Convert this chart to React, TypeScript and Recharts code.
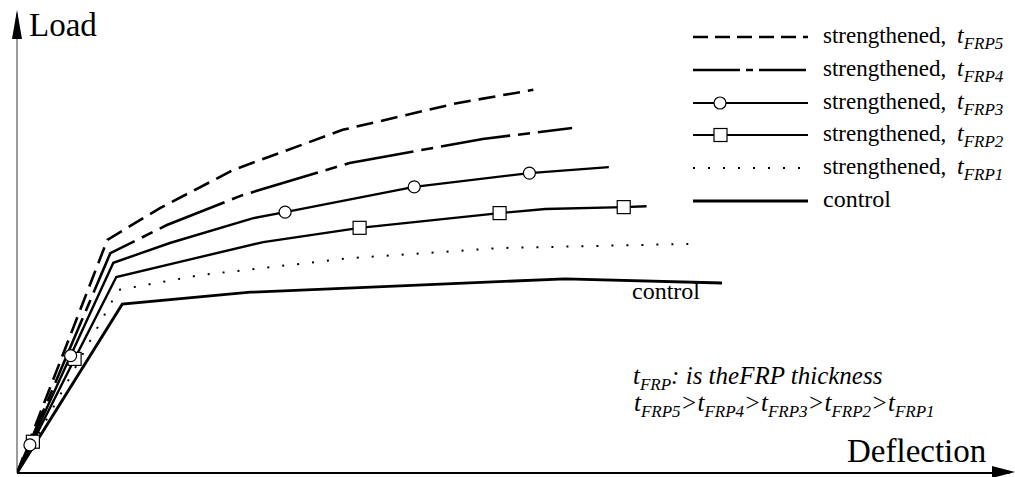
import React from 'react'
import { LineChart, Line, XAxis, YAxis, Legend, ReferenceLine } from 'recharts'

// load-deflection curves (arbitrary units 0..100)
const controlDef = [0, 10.6, 23.5, 38.6, 55.2, 71.0]
const controlLoad = [0, 36.7, 39.3, 40.7, 42.2, 41.3]

const frp1Def = [0, 10.2, 18.4, 33.5, 48.6, 67.6]
const frp1Load = [0, 39.8, 43.0, 46.7, 48.9, 49.8]

const frp2Def = [0, 1.6, 5.8, 10.0, 16.4, 24.8, 34.5, 48.6, 53.2, 61.1, 63.4]
const frp2Load = [0, 6.8, 24.8, 42.6, 45.9, 50.2, 53.3, 56.5, 57.4, 57.8, 58.0]
const frp2Markers = [1.6, 5.8, 34.5, 48.6, 61.1]

const frp3Def = [0, 1.3, 5.4, 9.7, 15.4, 23.8, 27.0, 40.0, 51.6, 59.6]
const frp3Load = [0, 6.1, 25.5, 45.7, 50.0, 55.4, 56.7, 62.2, 65.2, 66.5]
const frp3Markers = [1.3, 5.4, 27.0, 40.0, 51.6]

const frp4Def = [0, 9.4, 15.1, 22.7, 33.5, 46.9, 55.9]
const frp4Load = [0, 47.8, 53.9, 60.4, 67.4, 72.6, 75.0]

const frp5Def = [0, 9.1, 14.4, 21.8, 32.8, 44.3, 52.0]
const frp5Load = [0, 50.7, 57.6, 65.9, 74.6, 80.4, 83.3]

const legendSubs = ['FRP5', 'FRP4', 'FRP3', 'FRP2', 'FRP1']
const orderSubs = ['FRP5', 'FRP4', 'FRP3', 'FRP2', 'FRP1']

const toPoints = (def: number[], load: number[]) => def.map((d, i) => ({ d, load: load[i] }))

const serif = 'Liberation Serif, Times New Roman, DejaVu Serif, serif'

const markerDot = (markers: number[], kind: 'circle' | 'square') => (p: any) => {
  const key = `m-${kind}-${p.index}`
  if (!markers.includes(p.payload.d)) return <g key={key} />
  if (kind === 'circle') {
    return <circle key={key} cx={p.cx} cy={p.cy} r={6} fill="#fff" stroke="#000" strokeWidth={1.2} />
  }
  return <rect key={key} x={p.cx - 6.5} y={p.cy - 6.5} width={13} height={13} fill="#fff" stroke="#000" strokeWidth={1.2} />
}

const LegendBox = () => {
  const rows = [17, 50, 83, 115, 148, 181]
  const styles = [
    { dash: '15 7', w: 2.6 },
    { dash: '47 6 7 6', w: 2.6 },
    { dash: undefined, w: 2.2 },
    { dash: undefined, w: 2.2 },
    { dash: '2 13', w: 2 },
    { dash: undefined, w: 2.8 },
  ]
  return (
    <svg width={335} height={200} style={{ overflow: 'visible' }}>
      {rows.map((y, i) => (
        <g key={i}>
          <line x1={13} x2={128} y1={y} y2={y} stroke="#000" strokeWidth={styles[i].w} strokeDasharray={styles[i].dash} />
          {i === 2 && <circle cx={40} cy={y} r={6} fill="#fff" stroke="#000" strokeWidth={1.2} />}
          {i === 3 && <rect x={34} y={y - 6.5} width={13} height={13} fill="#fff" stroke="#000" strokeWidth={1.2} />}
          {i < 5 ? (
            <>
              <text x={143} y={y + 6} fontFamily={serif} fontSize={23} fill="#000">strengthened,</text>
              <text x={277} y={y + 6} fontFamily={serif} fontSize={24} fontStyle="italic" fill="#000">
                t<tspan dy={6} fontSize={17}>{legendSubs[i]}</tspan>
              </text>
            </>
          ) : (
            <text x={143} y={y + 6} fontFamily={serif} fontSize={24} fill="#000">control</text>
          )}
        </g>
      ))}
    </svg>
  )
}

export default function App() {
  return (
    <div style={{ position: 'absolute', left: 0, top: 0, width: 1015, height: 477, background: '#fff' }}>
      <LineChart width={1015} height={477} margin={{ top: 13, right: 5, bottom: 4, left: 17 }}>
        <XAxis type="number" dataKey="d" domain={[0, 100]} allowDataOverflow hide />
        <YAxis type="number" dataKey="load" domain={[0, 100]} allowDataOverflow hide />
        <ReferenceLine y={0} stroke="#000" strokeWidth={2} ifOverflow="visible" />
        <ReferenceLine x={0} stroke="#666" strokeWidth={1.3} ifOverflow="visible" />
        <Legend
          layout="vertical"
          align="center"
          verticalAlign="middle"
          wrapperStyle={{ left: 680, top: 20, width: 335 }}
          content={() => <LegendBox />}
        />
        <Line data={toPoints(controlDef, controlLoad)} dataKey="load" type="linear" stroke="#000" strokeWidth={2.8} dot={false} isAnimationActive={false} />
        <Line data={toPoints(frp1Def, frp1Load)} dataKey="load" type="linear" stroke="#000" strokeWidth={2} strokeDasharray="2 13" dot={false} isAnimationActive={false} />
        <Line data={toPoints(frp2Def, frp2Load)} dataKey="load" type="linear" stroke="#000" strokeWidth={2.4} dot={markerDot(frp2Markers, 'square')} isAnimationActive={false} />
        <Line data={toPoints(frp3Def, frp3Load)} dataKey="load" type="linear" stroke="#000" strokeWidth={2.4} dot={markerDot(frp3Markers, 'circle')} isAnimationActive={false} />
        <Line data={toPoints(frp4Def, frp4Load)} dataKey="load" type="linear" stroke="#000" strokeWidth={2.6} strokeDasharray="70 8 12 8" dot={false} isAnimationActive={false} />
        <Line data={toPoints(frp5Def, frp5Load)} dataKey="load" type="linear" stroke="#000" strokeWidth={2.6} strokeDasharray="17 8" dot={false} isAnimationActive={false} />
      </LineChart>

      <svg width={1015} height={477} style={{ position: 'absolute', left: 0, top: 0, pointerEvents: 'none' }}>
        {/* axis arrowheads and labels */}
        <polygon points="17,10 12,39 22,39" fill="#000" />
        <polygon points="1015,472 992,466 992,478" fill="#000" />
        <text x={29} y={36} fontFamily={serif} fontSize={33} fill="#000">Load</text>
        <text x={847} y={462} fontFamily={serif} fontSize={33} fill="#000">Deflection</text>
        <text x={632} y={299} fontFamily={serif} fontSize={24} fill="#000">control</text>
        <text x={633} y={384} fontFamily={serif} fontSize={25} fontStyle="italic" fill="#000">
          t<tspan dy={6} fontSize={17}>FRP</tspan>
          <tspan dy={-6}>: is theFRP thickness</tspan>
        </text>
        <text x={634} y={411} fontFamily={serif} fontSize={25} fontStyle="italic" fill="#000">
          {orderSubs.map((s, i) => (
            <React.Fragment key={s}>
              <tspan dy={i === 0 ? 0 : -6}>{i === 0 ? 't' : '>t'}</tspan>
              <tspan dy={6} fontSize={17}>{s}</tspan>
            </React.Fragment>
          ))}
        </text>
      </svg>
    </div>
  )
}
